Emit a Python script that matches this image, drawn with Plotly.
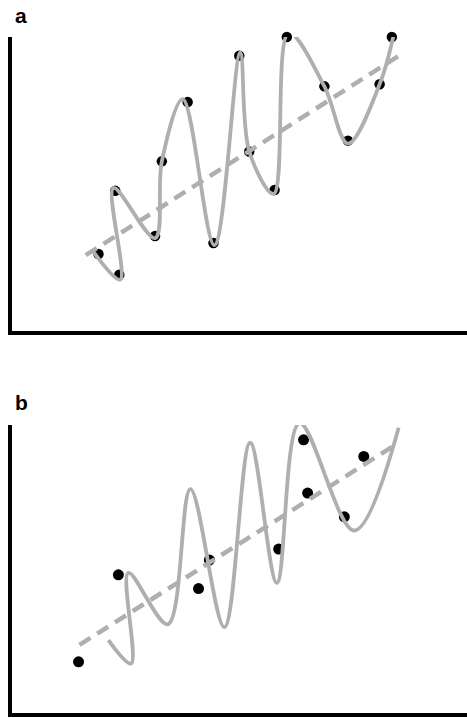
import plotly.graph_objects as go

# panel a: observed points, fitted curve path, linear trend
a_pts_x = [1.86, 2.32, 2.23, 3.11, 3.26, 3.83, 4.40, 4.97, 5.19, 5.75, 6.02, 6.85, 7.37, 8.07, 8.34]
a_pts_y = [2.57, 1.86, 4.73, 3.18, 5.74, 7.77, 2.94, 9.36, 6.08, 4.76, 10.0, 8.31, 6.45, 8.38, 10.0]
a_curve_x = [1.75, 2.34, 2.19, 3.11, 3.26, 3.72, 4.42, 4.99, 5.19, 5.73, 6.06, 6.85, 7.37, 8.07, 8.38]
a_curve_y = [2.64, 1.69, 4.83, 3.11, 5.74, 7.87, 2.87, 9.46, 6.08, 4.63, 10.14, 8.31, 6.35, 8.38, 10.07]
a_trend_x = [1.58, 8.60]
a_trend_y = [2.53, 9.46]

# panel b: new points against the same kind of curve
b_pts_x = [1.42, 2.30, 4.07, 4.31, 5.84, 6.39, 6.48, 7.29, 7.72]
b_pts_y = [1.72, 4.76, 4.28, 5.28, 5.66, 9.48, 7.62, 6.79, 8.90]
b_curve_x = [2.08, 2.58, 2.52, 3.39, 3.89, 4.64, 5.21, 5.80, 6.30, 7.51, 8.49]
b_curve_y = [2.48, 1.66, 4.83, 3.03, 7.76, 2.93, 9.38, 4.48, 10.07, 6.31, 9.90]
b_trend_x = [1.44, 8.42]
b_trend_y = [2.31, 9.31]

GRAY = "#afafaf"

fig = go.Figure()

def add_panel(px, py, cx, cy, tx, ty, xa, ya, msize):
    fig.add_trace(go.Scatter(x=px, y=py, mode="markers", xaxis=xa, yaxis=ya,
                             marker=dict(color="black", size=msize), cliponaxis=False))
    fig.add_trace(go.Scatter(x=tx, y=ty, mode="lines", xaxis=xa, yaxis=ya,
                             line=dict(color=GRAY, width=4.5, dash="13px,8px"), cliponaxis=False))
    fig.add_trace(go.Scatter(x=cx, y=cy, mode="lines", xaxis=xa, yaxis=ya,
                             line=dict(color=GRAY, width=3.8, shape="spline", smoothing=1.0),
                             cliponaxis=False))

add_panel(a_pts_x, a_pts_y, a_curve_x, a_curve_y, a_trend_x, a_trend_y, "x", "y", 10.5)
add_panel(b_pts_x, b_pts_y, b_curve_x, b_curve_y, b_trend_x, b_trend_y, "x2", "y2", 11)

ax = dict(showline=True, linecolor="black", linewidth=4, showgrid=False, zeroline=False,
          showticklabels=False, ticks="", fixedrange=True)

label_font = dict(family="Liberation Sans, Arial", size=21, color="black")

x0 = 12 / 467
fig.update_layout(
    width=467, height=718, margin=dict(l=0, r=0, t=0, b=0),
    paper_bgcolor="white", plot_bgcolor="white", showlegend=False,
    xaxis=dict(ax, domain=[x0, 1], range=[-0.05, 10], anchor="y"),
    yaxis=dict(ax, domain=[1 - 331 / 718, 1 - 37 / 718], range=[-0.07, 10], anchor="x"),
    xaxis2=dict(ax, domain=[x0, 1], range=[-0.05, 10], anchor="y2"),
    yaxis2=dict(ax, domain=[1 - 713 / 718, 1 - 425 / 718], range=[-0.07, 10], anchor="x2"),
    annotations=[
        dict(text="<b>a</b>", x=21 / 467, y=1 - 15 / 718, xref="paper", yref="paper",
             xanchor="center", yanchor="middle", showarrow=False, font=label_font),
        dict(text="<b>b</b>", x=21 / 467, y=1 - 402 / 718, xref="paper", yref="paper",
             xanchor="center", yanchor="middle", showarrow=False, font=label_font),
    ],
)

fig.write_html("out.html", config={"displayModeBar": False},
               post_script="document.body.style.margin='0px';document.body.style.overflow='hidden';")
